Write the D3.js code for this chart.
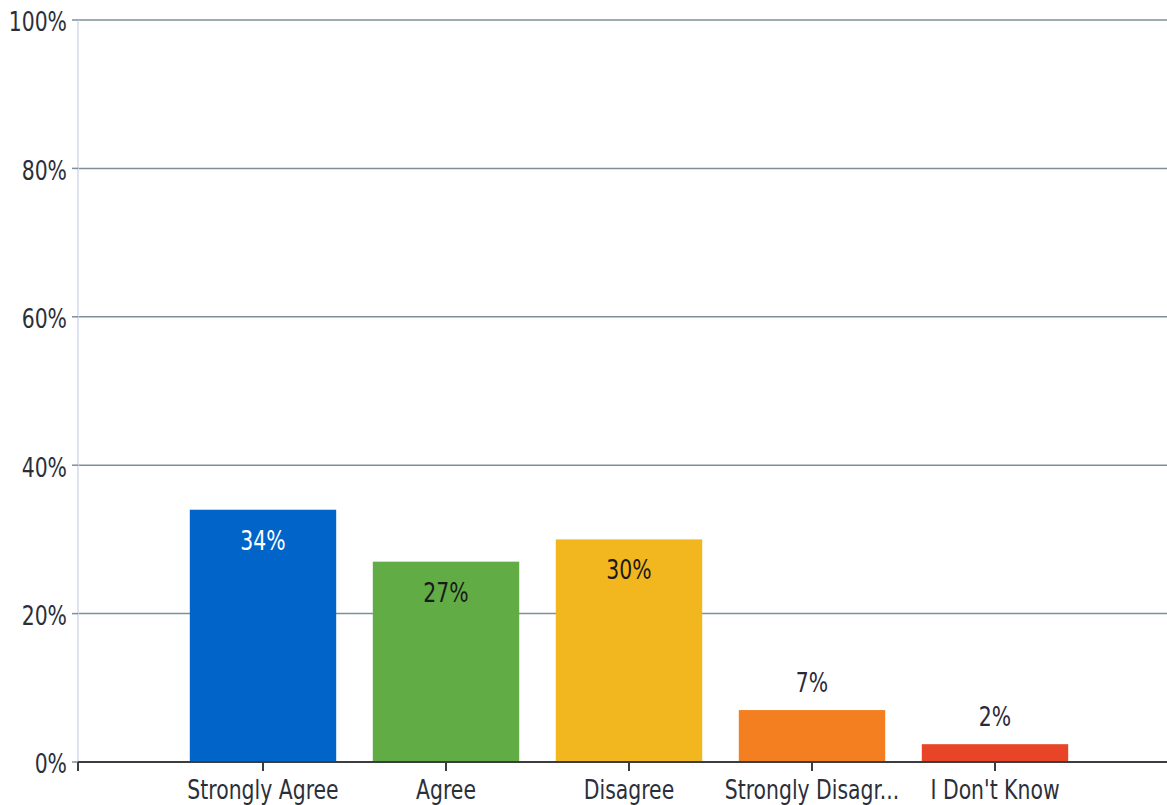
<!DOCTYPE html>
<html>
	<head>
		<meta charset="utf-8">
		<script src="https://cdnjs.cloudflare.com/ajax/libs/d3/7.8.5/d3.min.js" charset="utf-8"></script>
		<style>
			body { margin: 0; background: #fff; }
			text { font-family: "Liberation Sans Narrow", "DejaVu Sans", sans-serif; font-stretch: condensed; }
		</style>
	</head>
	<body>
		<div id="chart"></div>

		<script>

/////// Data ///////
	var categories = ["Strongly Agree", "Agree", "Disagree", "Strongly Disagr...", "I Don't Know"];
	var values = [34, 27, 30, 7, 2.4];
	var colours = ["#0064C8", "#62AC46", "#F2B61E", "#F47F20", "#E84427"];
	var labelInside = [true, true, true, false, false];
	var labelColours = ["#ffffff", "#1a1a1a", "#1a1a1a", "#2a2a3a", "#2a2a3a"];
	var yTicks = [0, 20, 40, 60, 80, 100];

/////// SVG container ///////
	var W = 1167, H = 805;
	var plotLeft = 78, plotTop = 20, plotBottom = 762;
	var squeeze = 0.84; // text is drawn tall and narrow

	var svg = d3.select("#chart")
		.append("svg")
		.attr("width", W)
		.attr("height", H);

	var y = d3.scaleLinear()
		.domain([0, 100])
		.range([plotBottom, plotTop]);

	var x = d3.scaleBand()
		.domain(categories)
		.range([171.5, 1086.5])
		.paddingInner(0.2)
		.paddingOuter(0.1);

	function at(px, py) {
		return "translate(" + px + "," + py + ") scale(" + squeeze + ",1)";
	}

	// gridlines
	svg.selectAll(".grid")
		.data(yTicks.filter(function(d) { return d > 0; }))
		.enter().append("line")
		.attr("x1", plotLeft)
		.attr("x2", W)
		.attr("y1", function(d) { return y(d); })
		.attr("y2", function(d) { return y(d); })
		.style("stroke", "#7d8f99")
		.style("stroke-width", 1.5);

	// y axis line
	svg.append("line")
		.attr("x1", plotLeft).attr("x2", plotLeft)
		.attr("y1", plotTop).attr("y2", plotBottom)
		.style("stroke", "#d4d8ea")
		.style("stroke-width", 1.5);

	// y ticks + labels
	var yt = svg.selectAll(".ytick")
		.data(yTicks)
		.enter().append("g")
		.attr("transform", function(d) { return "translate(0," + y(d) + ")"; });
	yt.append("line")
		.attr("x1", plotLeft - 6).attr("x2", plotLeft)
		.style("stroke", "#7d8f99")
		.style("stroke-width", 1.5);
	yt.append("text")
		.attr("transform", at(plotLeft - 11, 2))
		.attr("dy", "0.35em")
		.attr("text-anchor", "end")
		.style("font-size", "27px")
		.style("fill", "#2b2f3a")
		.text(function(d) { return d + "%"; });

	// bars
	svg.selectAll(".bar")
		.data(values)
		.enter().append("rect")
		.attr("x", function(d, i) { return x(categories[i]); })
		.attr("y", function(d) { return y(d); })
		.attr("width", x.bandwidth())
		.attr("height", function(d) { return plotBottom - y(d); })
		.style("fill", function(d, i) { return colours[i]; });

	// value labels
	svg.selectAll(".val")
		.data(values)
		.enter().append("text")
		.attr("transform", function(d, i) {
			return at(x(categories[i]) + x.bandwidth() / 2, labelInside[i] ? y(d) + 40 : y(d) - 18);
		})
		.attr("text-anchor", "middle")
		.style("font-size", "27px")
		.style("fill", function(d, i) { return labelColours[i]; })
		.text(function(d) { return Math.round(d) + "%"; });

	// x axis
	svg.append("line")
		.attr("x1", plotLeft).attr("x2", W)
		.attr("y1", plotBottom).attr("y2", plotBottom)
		.style("stroke", "#3a3d42")
		.style("stroke-width", 2);

	var tickXs = [plotLeft].concat(categories.map(function(c) { return x(c) + x.bandwidth() / 2; }));
	svg.selectAll(".xtick")
		.data(tickXs)
		.enter().append("line")
		.attr("x1", function(d) { return d; })
		.attr("x2", function(d) { return d; })
		.attr("y1", plotBottom)
		.attr("y2", plotBottom + 9)
		.style("stroke", "#3a3d42")
		.style("stroke-width", 2);

	svg.selectAll(".xlab")
		.data(categories)
		.enter().append("text")
		.attr("transform", function(d) { return at(x(d) + x.bandwidth() / 2, plotBottom + 37); })
		.attr("text-anchor", "middle")
		.style("font-size", "27px")
		.style("fill", "#2b2f3a")
		.text(function(d) { return d; });

		</script>
	</body>
</html>
